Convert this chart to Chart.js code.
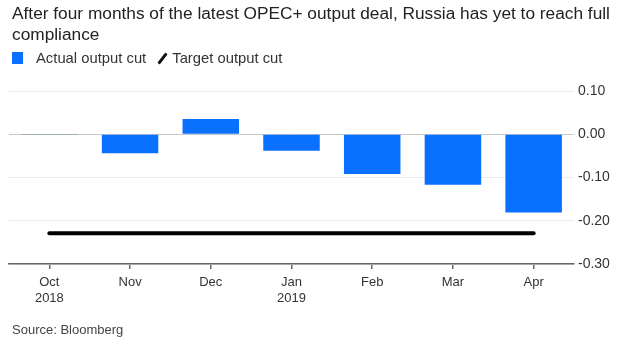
<!DOCTYPE html>
<html>
<head>
<meta charset="utf-8">
<script src="https://cdn.jsdelivr.net/npm/chart.js@4"></script>
<style>
  body { margin: 0; width: 625px; height: 345px; position: relative; background: #fff; font-family: "Liberation Sans", Arial, sans-serif; overflow: hidden; }
  #title { position: absolute; left: 12px; top: 3px; width: 613px; font-size: 17.3px; line-height: 21px; color: #222; }
  #legend { position: absolute; left: 12px; top: 50px; font-size: 14.8px; color: #333; display: flex; align-items: center; }
  .sq { width: 11px; height: 12px; background: #0a70ff; margin-right: 13px; }
  .slash { width: 3px; height: 13px; background: #111; transform: rotate(38deg); margin: 0 8px 0 15px; border-radius: 1px; }
  #source { position: absolute; left: 12px; top: 322px; font-size: 13px; color: #444; }
  #wrap { position: absolute; left: 0; top: 0; width: 625px; height: 345px; }
</style>
</head>
<body>
<div id="wrap"><canvas id="chart"></canvas></div>
<div id="title">After four months of the latest OPEC+ output deal, Russia has yet to reach full compliance</div>
<div id="legend"><div class="sq"></div><span>Actual output cut</span><div class="slash"></div><span>Target output cut</span></div>
<div id="source">Source: Bloomberg</div>
<script>
const months = [["Oct", "2018"], "Nov", "Dec", ["Jan", "2019"], "Feb", "Mar", "Apr"];
const actualCut = [-0.002, -0.044, 0.035, -0.038, -0.092, -0.117, -0.181];
const targetCut = [-0.229, -0.229, -0.229, -0.229, -0.229, -0.229, -0.229];

const ctx = document.getElementById("chart").getContext("2d");
new Chart(ctx, {
  data: {
    labels: months,
    datasets: [
      {
        type: "line",
        label: "Target output cut",
        data: targetCut,
        borderColor: "#000",
        borderWidth: 4,
        borderCapStyle: "round",
        pointRadius: 0,
        fill: false,
      },
      {
        type: "bar",
        label: "Actual output cut",
        data: actualCut,
        backgroundColor: ["#2a6a80", "#0a70ff", "#0a70ff", "#0a70ff", "#0a70ff", "#0a70ff", "#0a70ff"],
        barPercentage: 0.7,
        categoryPercentage: 1,
      },
    ],
  },
  options: {
    responsive: true,
    maintainAspectRatio: false,
    animation: false,
    layout: { padding: { top: 91, left: 9, right: 0, bottom: 0 } },
    plugins: { legend: { display: false }, tooltip: { enabled: false } },
    scales: {
      x: {
        afterFit: (s) => { s.height = 81; },
        grid: { offset: false, drawOnChartArea: false, color: "#666", tickLength: 5, lineWidth: 1.5 },
        border: { color: "#666", width: 1.5 },
        ticks: { color: "#333", font: { family: "Liberation Sans", size: 13 }, padding: 6, maxRotation: 0 },
      },
      y: {
        position: "right",
        min: -0.3,
        max: 0.1,
        afterFit: (s) => { s.width = 51; },
        grid: {
          drawTicks: false,
          color: (c) => (Math.abs(c.tick.value) < 1e-9 ? "#c8c8c8" : "#ebebeb"),
        },
        border: { display: false },
        ticks: {
          stepSize: 0.1,
          padding: 4,
          color: "#333",
          font: { family: "Liberation Sans", size: 14 },
          callback: (v) => v.toFixed(2),
        },
      },
    },
  },
});
</script>
</body>
</html>
